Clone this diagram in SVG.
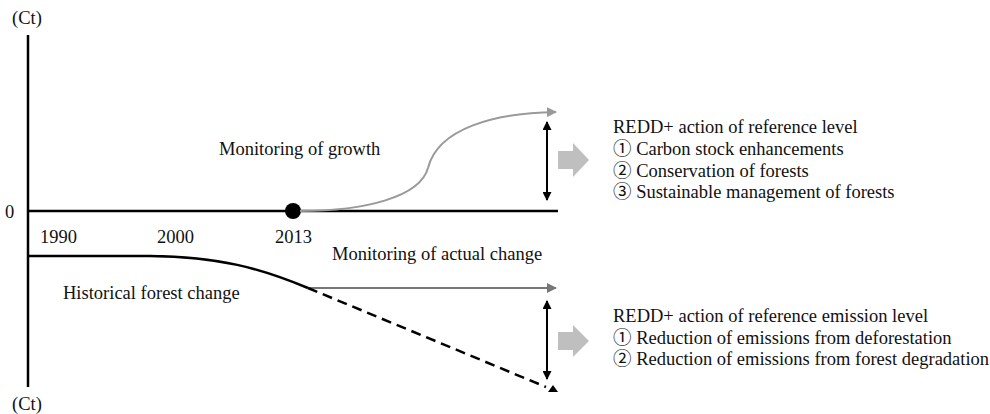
<svg xmlns="http://www.w3.org/2000/svg" width="990" height="414" viewBox="0 0 990 414">
<style>
text{font-family:"Liberation Serif","Noto Sans CJK JP",serif;font-size:18.5px;fill:#111}
.ax{stroke:#000;stroke-width:2.5;fill:none}
.blk{fill:#bfbfbf}
</style>
<defs>
<marker id="ga" viewBox="0 0 10 10" refX="9" refY="5" markerWidth="5" markerHeight="5" orient="auto" markerUnits="strokeWidth"><path d="M0,0 L10,5 L0,10 z" fill="#999"/></marker>
<marker id="ga2" viewBox="0 0 10 10" refX="9" refY="5" markerWidth="5" markerHeight="5" orient="auto" markerUnits="strokeWidth"><path d="M0,0 L10,5 L0,10 z" fill="#777"/></marker>
<marker id="ba" viewBox="0 0 10 10" refX="9" refY="5" markerWidth="5" markerHeight="4.5" orient="auto-start-reverse" markerUnits="strokeWidth"><path d="M0,0 L10,5 L0,10 z" fill="#000"/></marker>
</defs>
<g id="axes">
<line class="ax" x1="28" y1="35" x2="28" y2="387"/>
<line class="ax" x1="28" y1="211" x2="558" y2="211"/>
<text x="12" y="24">(Ct)</text>
<text x="12" y="410">(Ct)</text>
<text x="5" y="218">0</text>
<text x="40" y="243">1990</text>
<text x="157" y="243">2000</text>
<text x="275" y="243">2013</text>
</g>
<g id="node-2013"><circle cx="293" cy="211" r="8" fill="#000"/></g>
<g id="connectors">
<path d="M300,211 C365,211 420,197 428,168 C438,128 495,113 556,112" fill="none" stroke="#999" stroke-width="2" marker-end="url(#ga)"/>
<path d="M28,256 L150,256 C220,257 260,268 308,288" class="ax"/>
<line x1="308" y1="288" x2="556" y2="288" stroke="#777" stroke-width="2" marker-end="url(#ga2)"/>
<line x1="308" y1="288" x2="546" y2="387" stroke="#000" stroke-width="2.5" stroke-dasharray="10,6"/>
<path d="M548,392 L553,385 L558,392 z" fill="#000"/>
<line x1="547" y1="122" x2="547" y2="200" stroke="#000" stroke-width="2" marker-start="url(#ba)" marker-end="url(#ba)"/>
<line x1="547" y1="301" x2="547" y2="379" stroke="#000" stroke-width="2" marker-start="url(#ba)" marker-end="url(#ba)"/>
<path class="blk" d="M558,151 L573,151 L573,143 L589,160 L573,177 L573,169 L558,169 z"/>
<path class="blk" d="M558,332 L573,332 L573,325 L589,341 L573,357 L573,350 L558,350 z"/>
</g>
<g id="label-growth"><text x="219" y="155">Monitoring of growth</text></g>
<g id="label-actual"><text x="332" y="260">Monitoring of actual change</text></g>
<g id="label-historical"><text x="63" y="299">Historical forest change</text></g>
<g id="reference-level">
<text x="613" y="133">REDD+ action of reference level</text>
<text x="613" y="155">① Carbon stock enhancements</text>
<text x="613" y="177">② Conservation of forests</text>
<text x="613" y="198">③ Sustainable management of forests</text>
</g>
<g id="reference-emission-level">
<text x="613" y="322">REDD+ action of reference emission level</text>
<text x="613" y="344">① Reduction of emissions from deforestation</text>
<text x="613" y="365">② Reduction of emissions from forest degradation</text>
</g>
</svg>
